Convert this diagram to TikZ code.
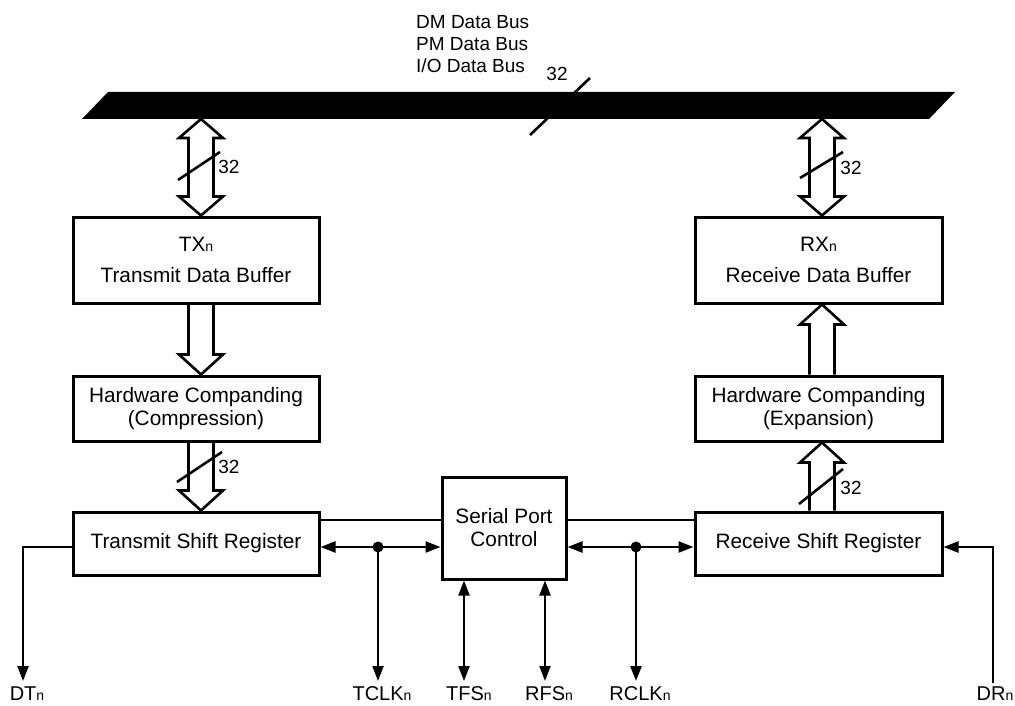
\documentclass[tikz,border=0pt]{standalone}
\usepackage{fontspec}
\setmainfont{Liberation Sans}
\usetikzlibrary{calc,arrows.meta}
\newcommand{\subn}{{\fontsize{14}{14}\selectfont n}}
\newcommand{\dblarrow}[2]{%
  \draw[harrow] (#1) -- ($(#1)+(22,19)$) -- ($(#1)+(12.5,19)$) -- ($(#2)+(12.5,-19)$) -- ($(#2)+(22,-19)$) -- (#2)
    -- ($(#2)+(-22,-19)$) -- ($(#2)+(-12.5,-19)$) -- ($(#1)+(-12.5,19)$) -- ($(#1)+(-22,19)$) -- cycle;}
\newcommand{\downharrow}[2]{%
  \draw[harrow] ($(#1)+(-12.5,0)$) -- ($(#2)+(-12.5,-20)$) -- ($(#2)+(-22,-20)$) -- (#2)
    -- ($(#2)+(22,-20)$) -- ($(#2)+(12.5,-20)$) -- ($(#1)+(12.5,0)$);}
\newcommand{\upharrow}[2]{%
  \draw[harrow] ($(#1)+(-12.5,0)$) -- ($(#2)+(-12.5,20)$) -- ($(#2)+(-22,20)$) -- (#2)
    -- ($(#2)+(22,20)$) -- ($(#2)+(12.5,20)$) -- ($(#1)+(12.5,0)$);}
\begin{document}
\begin{tikzpicture}[x=1pt,y=-1pt,
  box/.style={draw, line width=3pt, inner sep=0pt, align=center, font=\fontsize{20.8}{23}\selectfont},
  conn/.style={line width=2.4pt},
  thinconn/.style={line width=2pt},
  harrow/.style={line width=2.6pt, line join=miter},
  slash/.style={line width=2.6pt},
  lbl/.style={font=\fontsize{20}{24}\selectfont, inner sep=0pt},
  num/.style={font=\fontsize{19}{22}\selectfont, inner sep=0pt},
  tipend/.style={-{Triangle[length=15pt,width=11pt]}},
  bitip/.style={{Triangle[length=15pt,width=11pt]}-{Triangle[length=15pt,width=11pt]}}
]
\useasboundingbox (0,0) rectangle (1015,706);

% bus labels
\node[lbl, anchor=west, font=\fontsize{19}{22}\selectfont] (dm) at (416,22) {DM Data Bus};
\node[lbl, anchor=west, font=\fontsize{19}{22}\selectfont] (pm) at (416,44) {PM Data Bus};
\node[lbl, anchor=west, font=\fontsize{19}{22}\selectfont] (io) at (416,66) {I/O Data Bus};
\node[num] (n32bus) at (557,74) {32};

% bus
\fill (108,92) -- (955,92) -- (929,119) -- (82,119) -- cycle;
\draw[slash] (530,135) -- (590,78);
\coordinate (busL) at (201,119);
\coordinate (busR) at (822,119);

% boxes
\node[box, minimum width=246pt, minimum height=86pt] (tx) at (196,260) {TX\subn\\[8pt]Transmit Data Buffer};
\node[box, minimum width=246pt, minimum height=65pt] (hcc) at (196,408.5) {Hardware Companding\\(Compression)};
\node[box, minimum width=246pt, minimum height=63pt] (tsr) at (196,543.5) {Transmit Shift Register};
\node[box, minimum width=124pt, minimum height=102pt] (spc) at (504,528) {Serial Port\\Control};
\node[box, minimum width=247pt, minimum height=86pt] (rx) at (818.5,260) {RX\subn\\[8pt]Receive Data Buffer};
\node[box, minimum width=247pt, minimum height=65pt] (hce) at (818.5,408.5) {Hardware Companding\\(Expansion)};
\node[box, minimum width=247pt, minimum height=63pt] (rsr) at (818.5,543.5) {Receive Shift Register};

% left column hollow arrows
\coordinate (txn) at ($(tx.north)+(5,0)$);
\coordinate (txs) at ($(tx.south)+(5,0)$);
\coordinate (hccn) at ($(hcc.north)+(5,0)$);
\coordinate (hccs) at ($(hcc.south)+(5,0)$);
\coordinate (tsrn) at ($(tsr.north)+(5,0)$);
\dblarrow{busL}{txn}
\draw[slash] (178,180) -- (220,152);
\node[num] (n32a) at (229,167) {32};
\downharrow{txs}{hccn}
\downharrow{hccs}{tsrn}
\draw[slash] (177,482) -- (222,452);
\node[num] (n32b) at (229,467) {32};

% right column hollow arrows
\coordinate (rxn) at ($(rx.north)+(3.5,0)$);
\coordinate (rxs) at ($(rx.south)+(3.5,0)$);
\coordinate (hcen) at ($(hce.north)+(3.5,0)$);
\coordinate (hces) at ($(hce.south)+(3.5,0)$);
\coordinate (rsrn) at ($(rsr.north)+(3.5,0)$);
\dblarrow{busR}{rxn}
\draw[slash] (800,178) -- (843,152);
\node[num] (n32c) at (851,168) {32};
\upharrow{hcen}{rxs}
\upharrow{rsrn}{hces}
\draw[slash] (799,504) -- (843,469);
\node[num] (n32d) at (851,488) {32};

% serial connections
\coordinate (yt) at (0,520);
\coordinate (yb) at (0,547);
\draw[conn] (tsr.east |- yt) -- (spc.west |- yt);
\draw[conn] (spc.east |- yt) -- (rsr.west |- yt);
\draw[conn, bitip] (tsr.east |- yb) -- (spc.west |- yb);
\draw[conn, bitip] (spc.east |- yb) -- (rsr.west |- yb);

% bottom pins
\coordinate (tclkdot) at (378,547);
\coordinate (rclkdot) at (636,547);
\coordinate (dt) at (23,681);
\coordinate (dtc) at (23,547);
\coordinate (tclk) at (378,681);
\coordinate (tfs) at (464,681);
\coordinate (rfs) at (545,681);
\coordinate (rclk) at (636,681);
\coordinate (dr) at (993,683);
\coordinate (drc) at (993,547);

\fill (tclkdot) circle (5.5);
\fill (rclkdot) circle (5.5);
\draw[conn, tipend] (tsr.west |- yb) -- (dtc) -- (dt);
\draw[thinconn, tipend] (tclkdot) -- (tclk);
\draw[thinconn, bitip] (tfs |- spc.south) -- (tfs);
\draw[thinconn, bitip] (rfs |- spc.south) -- (rfs);
\draw[conn, line width=2.8pt, tipend] (rclkdot) -- (rclk);
\draw[conn, tipend] (dr) -- (drc) -- (rsr.east |- yb);

\node[lbl] (dtl) at (27,694) {DT\subn};
\node[lbl] (tclkl) at (382,694) {TCLK\subn};
\node[lbl] (tfsl) at (469,694) {TFS\subn};
\node[lbl] (rfsl) at (549,694) {RFS\subn};
\node[lbl] (rclkl) at (640,694) {RCLK\subn};
\node[lbl] (drl) at (995,694) {DR\subn};
\end{tikzpicture}
\end{document}
